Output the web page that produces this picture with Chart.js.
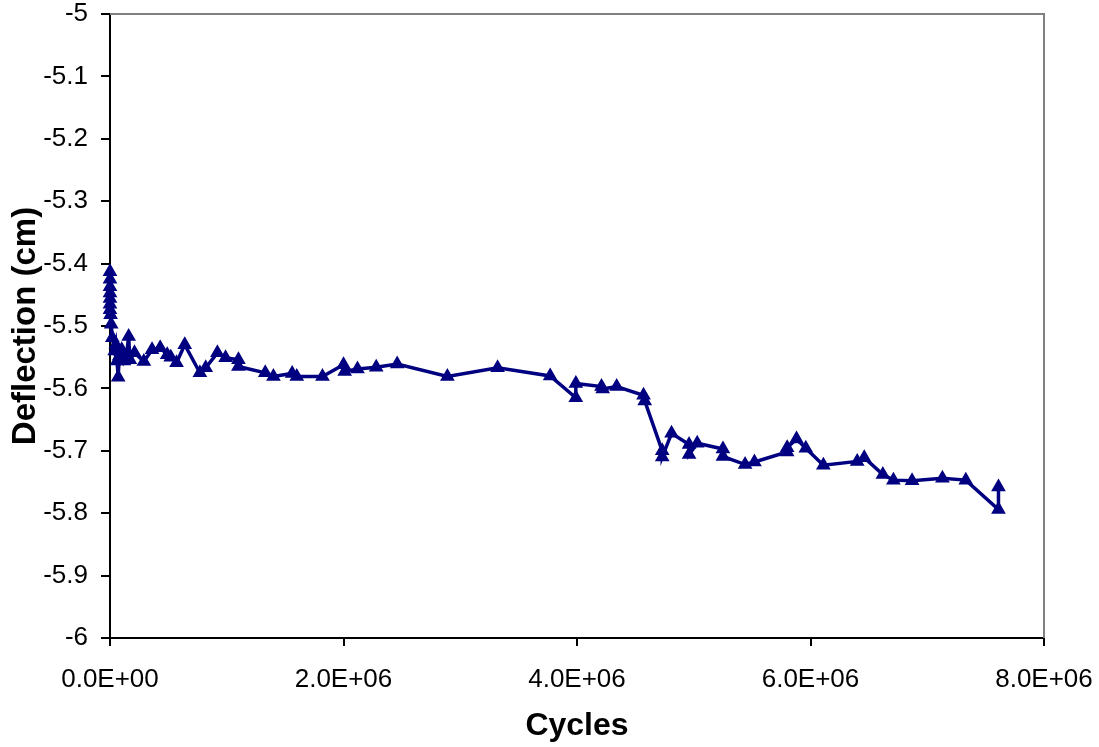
<!DOCTYPE html>
<html>
<head>
<meta charset="utf-8">
<script src="https://cdn.jsdelivr.net/npm/chart.js@4.4.0/dist/chart.umd.min.js"></script>
<style>
  html, body { margin: 0; padding: 0; background: #ffffff; }
  #wrap { width: 1099px; height: 747px; }
</style>
</head>
<body>
<div id="wrap"><canvas id="chart" width="1099" height="747"></canvas></div>
<script>
// Load cycles and measured mid-span deflection (cm)
const cycles = [
  0, 0, 0, 0, 0, 0, 0, 5000, 10000, 20000,
  40000, 50000, 60000, 70000, 80000, 100000, 120000, 140000, 160000, 170000,
  210000, 290000, 360000, 430000, 490000, 520000, 570000, 640000, 770000, 820000,
  920000, 990000, 1100000, 1100000, 1330000, 1400000, 1560000, 1600000, 1820000, 2000000,
  2010000, 2120000, 2280000, 2460000, 2890000, 3320000, 3770000, 3990000, 3990000, 4210000,
  4220000, 4340000, 4570000, 4580000, 4730000, 4730000, 4810000, 4960000, 4960000, 5030000,
  5250000, 5250000, 5440000, 5520000, 5800000, 5800000, 5880000, 5960000, 6110000, 6400000,
  6460000, 6620000, 6710000, 6870000, 7130000, 7330000, 7610000, 7610000
];
const deflection = [
  -5.413, -5.425, -5.437, -5.447, -5.456, -5.465, -5.474, -5.482, -5.497, -5.519,
  -5.540, -5.530, -5.556, -5.582, -5.548, -5.538, -5.556, -5.548, -5.517, -5.554,
  -5.543, -5.557, -5.538, -5.535, -5.546, -5.550, -5.559, -5.530, -5.575, -5.567,
  -5.543, -5.551, -5.554, -5.565, -5.575, -5.581, -5.576, -5.581, -5.581, -5.562,
  -5.573, -5.569, -5.566, -5.561, -5.581, -5.567, -5.580, -5.615, -5.592, -5.597,
  -5.601, -5.597, -5.611, -5.620, -5.700, -5.710, -5.672, -5.690, -5.706, -5.688,
  -5.697, -5.709, -5.722, -5.718, -5.702, -5.695, -5.681, -5.696, -5.723, -5.717,
  -5.711, -5.738, -5.747, -5.748, -5.744, -5.747, -5.794, -5.758
];
const xTicks = [0, 2000000, 4000000, 6000000, 8000000];
const yTicks = [-5, -5.1, -5.2, -5.3, -5.4, -5.5, -5.6, -5.7, -5.8, -5.9, -6];

const NAVY = '#000080';
const FONT = "'Liberation Sans', Arial, sans-serif";

const points = cycles.map((c, i) => ({ x: c, y: deflection[i] }));

// Excel-style scientific label: 2.0E+06
function sci(v) {
  if (v === 0) return '0.0E+00';
  const [m, e] = v.toExponential(1).split('e');
  const n = parseInt(e, 10);
  const sign = n < 0 ? '-' : '+';
  return m + 'E' + sign + String(Math.abs(n)).padStart(2, '0');
}

// Grey frame on the top and right edges of the plot area
const plotFrame = {
  id: 'plotFrame',
  beforeDatasetsDraw(chart) {
    const { ctx, chartArea: a } = chart;
    ctx.save();
    ctx.strokeStyle = '#808080';
    ctx.lineWidth = 2;
    ctx.beginPath();
    ctx.moveTo(a.left, a.top);
    ctx.lineTo(a.right, a.top);
    ctx.lineTo(a.right, a.bottom);
    ctx.stroke();
    ctx.restore();
  }
};

new Chart(document.getElementById('chart'), {
  type: 'line',
  data: {
    datasets: [{
      data: points,
      borderColor: NAVY,
      backgroundColor: NAVY,
      borderWidth: 3.5,
      pointStyle: 'triangle',
      pointRadius: 7,
      pointBorderWidth: 1.5,
      pointBackgroundColor: NAVY,
      pointBorderColor: NAVY,
      tension: 0,
      clip: false
    }]
  },
  options: {
    responsive: false,
    animation: false,
    events: [],
    layout: { padding: { top: 14, right: 55, left: 0, bottom: 0 } },
    plugins: { legend: { display: false }, tooltip: { enabled: false } },
    scales: {
      x: {
        type: 'linear',
        min: 0,
        max: 8000000,
        afterBuildTicks: s => { s.ticks = xTicks.map(v => ({ value: v })); },
        afterFit: s => { s.height = 109; s.paddingLeft = 0; s.paddingRight = 0; },
        border: { color: '#000000', width: 2 },
        grid: { drawOnChartArea: false, color: '#000000', lineWidth: 2, tickLength: 8 },
        ticks: {
          color: '#000000',
          font: { family: FONT, size: 26 },
          padding: 18,
          maxRotation: 0,
          callback: v => sci(v)
        },
        title: {
          display: true,
          text: 'Cycles',
          color: '#000000',
          font: { family: FONT, size: 32, weight: 'bold' },
          padding: { top: 0, bottom: 2 }
        }
      },
      y: {
        type: 'linear',
        min: -6,
        max: -5,
        afterBuildTicks: s => { s.ticks = yTicks.map(v => ({ value: v })); },
        afterFit: s => { s.width = 110; s.paddingTop = 0; s.paddingBottom = 0; },
        border: { color: '#000000', width: 2 },
        grid: { drawOnChartArea: false, color: '#000000', lineWidth: 2, tickLength: 9 },
        ticks: {
          color: '#000000',
          font: { family: FONT, size: 26 },
          padding: 13,
          callback: v => String(Number(v.toFixed(1)))
        },
        title: {
          display: true,
          text: 'Deflection (cm)',
          color: '#000000',
          font: { family: FONT, size: 33, weight: 'bold' },
          padding: { top: 6, bottom: 0 }
        }
      }
    }
  },
  plugins: [plotFrame]
});
</script>
</body>
</html>
